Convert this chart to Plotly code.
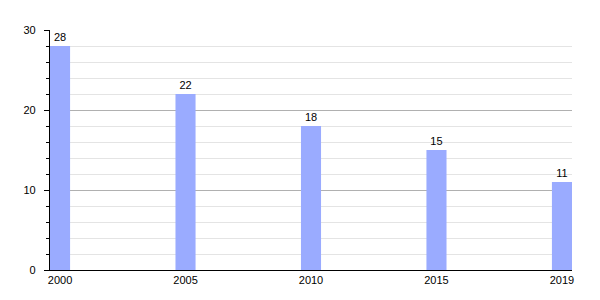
import plotly.graph_objects as go

years = ["2000", "2005", "2010", "2015", "2019"]
values = [28, 22, 18, 15, 11]

fig = go.Figure()
fig.add_trace(go.Bar(
    x=years, y=values,
    marker=dict(color="#9aabff", line=dict(width=0)),
    width=0.16,
    text=[str(v) for v in values],
    textposition="outside",
    textfont=dict(size=11, color="black", family="Liberation Sans, Arial"),
    cliponaxis=False,
))
fig.update_layout(
    width=600, height=300,
    margin=dict(l=50, r=28, t=30, b=30),
    paper_bgcolor="white", plot_bgcolor="white",
    font=dict(family="Liberation Sans, Arial", size=11, color="black"),
    showlegend=False,
    xaxis=dict(
        type="category", range=[-0.08, 4.08],
        showline=True, linecolor="black", linewidth=1,
        showgrid=False, ticks="", tickfont=dict(size=11),
    ),
    yaxis=dict(
        range=[0, 30], dtick=10, tick0=0,
        showline=True, linecolor="black", linewidth=1,
        ticks="outside", ticklen=5, tickcolor="black",
        gridcolor="#b0b0b0", gridwidth=1,
        zeroline=False,
        tickfont=dict(size=11),
        ticksuffix="  ",
        minor=dict(dtick=2, showgrid=True, gridcolor="#e4e4e4",
                   ticks="outside", ticklen=3, tickcolor="black"),
    ),
)
fig.write_html("out.html")
